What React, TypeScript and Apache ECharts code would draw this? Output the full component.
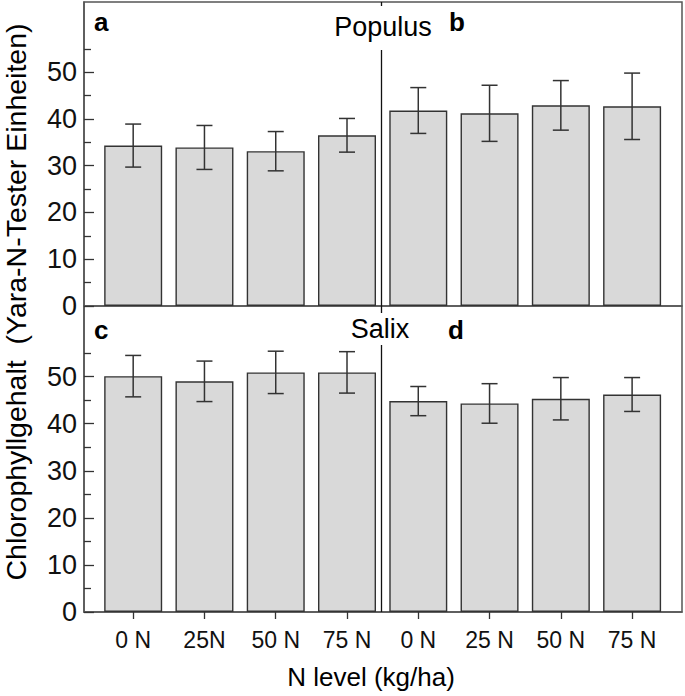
import React, { useEffect, useRef } from 'react';
import * as echarts from 'echarts';

const categories = ['0 N', '25N', '50 N', '75 N', '0 N', '25 N', '50 N', '75 N'];
const populusMeans = [34.3, 33.9, 33.1, 36.5, 41.8, 41.2, 42.9, 42.7];
const populusSD = [4.6, 4.7, 4.2, 3.6, 4.9, 6.0, 5.3, 7.1];
const salixMeans = [50.1, 49.0, 50.9, 50.9, 44.8, 44.3, 45.3, 46.2];
const salixSD = [4.4, 4.3, 4.5, 4.4, 3.1, 4.2, 4.5, 3.6];
const yMajorTicks = [0, 10, 20, 30, 40, 50];
const yMinorTicks = [5, 15, 25, 35, 45, 55];
const panelLetters = ['a', 'b', 'c', 'd'];
const speciesNames = ['Populus', 'Salix'];
const yTitle = 'Chlorophyllgehalt  (Yara-N-Tester Einheiten)';
const xTitle = 'N level (kg/ha)';

const positions = categories.map((_, i) => i + 1);
const FONT = "'Liberation Sans', Arial, Helvetica, sans-serif";
const FRAME = '#555555';
const INK = '#333333';

function errorRenderItem(params: any, api: any) {
  const x = api.value(0);
  const m = api.value(1);
  const sd = api.value(2);
  const top = api.coord([x, m + sd]);
  const bot = api.coord([x, m - sd]);
  const hw = 8;
  const style = { stroke: INK, lineWidth: 1.5 };
  return {
    type: 'group',
    children: [
      { type: 'line', shape: { x1: top[0], y1: top[1], x2: bot[0], y2: bot[1] }, style },
      { type: 'line', shape: { x1: top[0] - hw, y1: top[1], x2: top[0] + hw, y2: top[1] }, style },
      { type: 'line', shape: { x1: bot[0] - hw, y1: bot[1], x2: bot[0] + hw, y2: bot[1] }, style },
    ],
  };
}

function txt(text: string, x: number, y: number, size: number, weight: string, align = 'left', rotation = 0) {
  return {
    type: 'text',
    x,
    y,
    rotation,
    z: 60,
    style: {
      text,
      fontSize: size,
      fontFamily: FONT,
      fontWeight: weight,
      fill: '#000',
      align,
      verticalAlign: 'middle',
      textAlign: align,
      textVerticalAlign: 'middle',
    },
  };
}

export default function App() {
  const ref = useRef<HTMLDivElement>(null);
  useEffect(() => {
    if (!ref.current) return;
    const chart = echarts.init(ref.current, undefined, { renderer: 'svg' });
    const grids = [
      { left: 84, right: 3, top: 2, height: 304 },
      { left: 84, right: 3, top: 306, height: 306 },
    ].map((g) => ({ ...g, show: true, borderColor: FRAME, borderWidth: 1.5, backgroundColor: 'transparent' }));

    const xAxes = [0, 1].map((gi) => ({
      type: 'value',
      gridIndex: gi,
      min: 0.31,
      max: 8.7,
      splitLine: { show: false },
      axisLine: { show: gi === 1, lineStyle: { color: FRAME, width: 1.5 } },
      axisTick: {
        show: gi === 1,
        inside: false,
        length: 7,
        customValues: positions,
        lineStyle: { color: INK, width: 1.3 },
      },
      axisLabel: {
        show: gi === 1,
        customValues: positions,
        margin: 16,
        fontSize: 23,
        fontFamily: FONT,
        color: '#111',
        formatter: (v: number) => categories[Math.round(v) - 1] ?? '',
      },
    }));

    const yAxes: any[] = [];
    [0, 1].forEach((gi) => {
      yAxes.push({
        type: 'value',
        gridIndex: gi,
        position: 'left',
        min: 0,
        max: 65,
        splitLine: { show: false },
        axisLine: { show: true, lineStyle: { color: FRAME, width: 1.5 } },
        axisTick: { show: true, inside: true, length: 10, customValues: yMajorTicks, lineStyle: { color: INK, width: 1.3 } },
        axisLabel: { show: true, customValues: yMajorTicks, margin: 7, fontSize: 27, fontFamily: FONT, color: '#111' },
      });
      yAxes.push({
        type: 'value',
        gridIndex: gi,
        position: 'left',
        min: 0,
        max: 65,
        splitLine: { show: false },
        axisLine: { show: false },
        axisTick: { show: true, inside: true, length: 7, customValues: yMinorTicks, lineStyle: { color: INK, width: 1.3 } },
        axisLabel: { show: false },
      });
    });

    const datasets = [
      { means: populusMeans, sd: populusSD },
      { means: salixMeans, sd: salixSD },
    ];

    const series: any[] = [];
    datasets.forEach((d, gi) => {
      series.push({
        type: 'bar',
        xAxisIndex: gi,
        yAxisIndex: gi * 2,
        barWidth: 58,
        data: d.means.map((m, i) => [positions[i], m]),
        itemStyle: { color: '#d9d9d9', borderColor: '#333', borderWidth: 1.4 },
        silent: true,
        markLine: {
          silent: true,
          symbol: ['none', 'none'],
          label: { show: false },
          lineStyle: { color: '#111', width: 1.3, type: 'solid' },
          data: [{ xAxis: 4.48 }],
        },
      });
      series.push({
        type: 'custom',
        xAxisIndex: gi,
        yAxisIndex: gi * 2,
        renderItem: errorRenderItem,
        encode: { x: 0, y: 1 },
        data: d.means.map((m, i) => [positions[i], m, d.sd[i]]),
        z: 5,
        silent: true,
      });
    });

    const graphic: any[] = [
      { type: 'rect', z: 50, shape: { x: 374, y: 6, width: 14, height: 44 }, style: { fill: '#fff' } },
      { type: 'rect', z: 50, shape: { x: 374, y: 313, width: 14, height: 32 }, style: { fill: '#fff' } },
      txt(speciesNames[0], 383, 27, 27, 'normal', 'center'),
      txt(speciesNames[1], 380, 329, 27, 'normal', 'center'),
      txt(panelLetters[0], 94, 22, 26, 'bold'),
      txt(panelLetters[1], 449, 22, 26, 'bold'),
      txt(panelLetters[2], 94, 330, 26, 'bold'),
      txt(panelLetters[3], 448, 330, 26, 'bold'),
      txt(yTitle, 16, 302, 28.5, 'normal', 'center', Math.PI / 2),
      txt(xTitle, 371, 677, 26, 'normal', 'center'),
    ];

    chart.setOption({
      animation: false,
      grid: grids,
      xAxis: xAxes,
      yAxis: yAxes,
      series,
      graphic,
    });
    return () => chart.dispose();
  }, []);
  return <div ref={ref} style={{ position: 'fixed', left: 0, top: 0, width: 685, height: 696, background: '#fff' }} />;
}
